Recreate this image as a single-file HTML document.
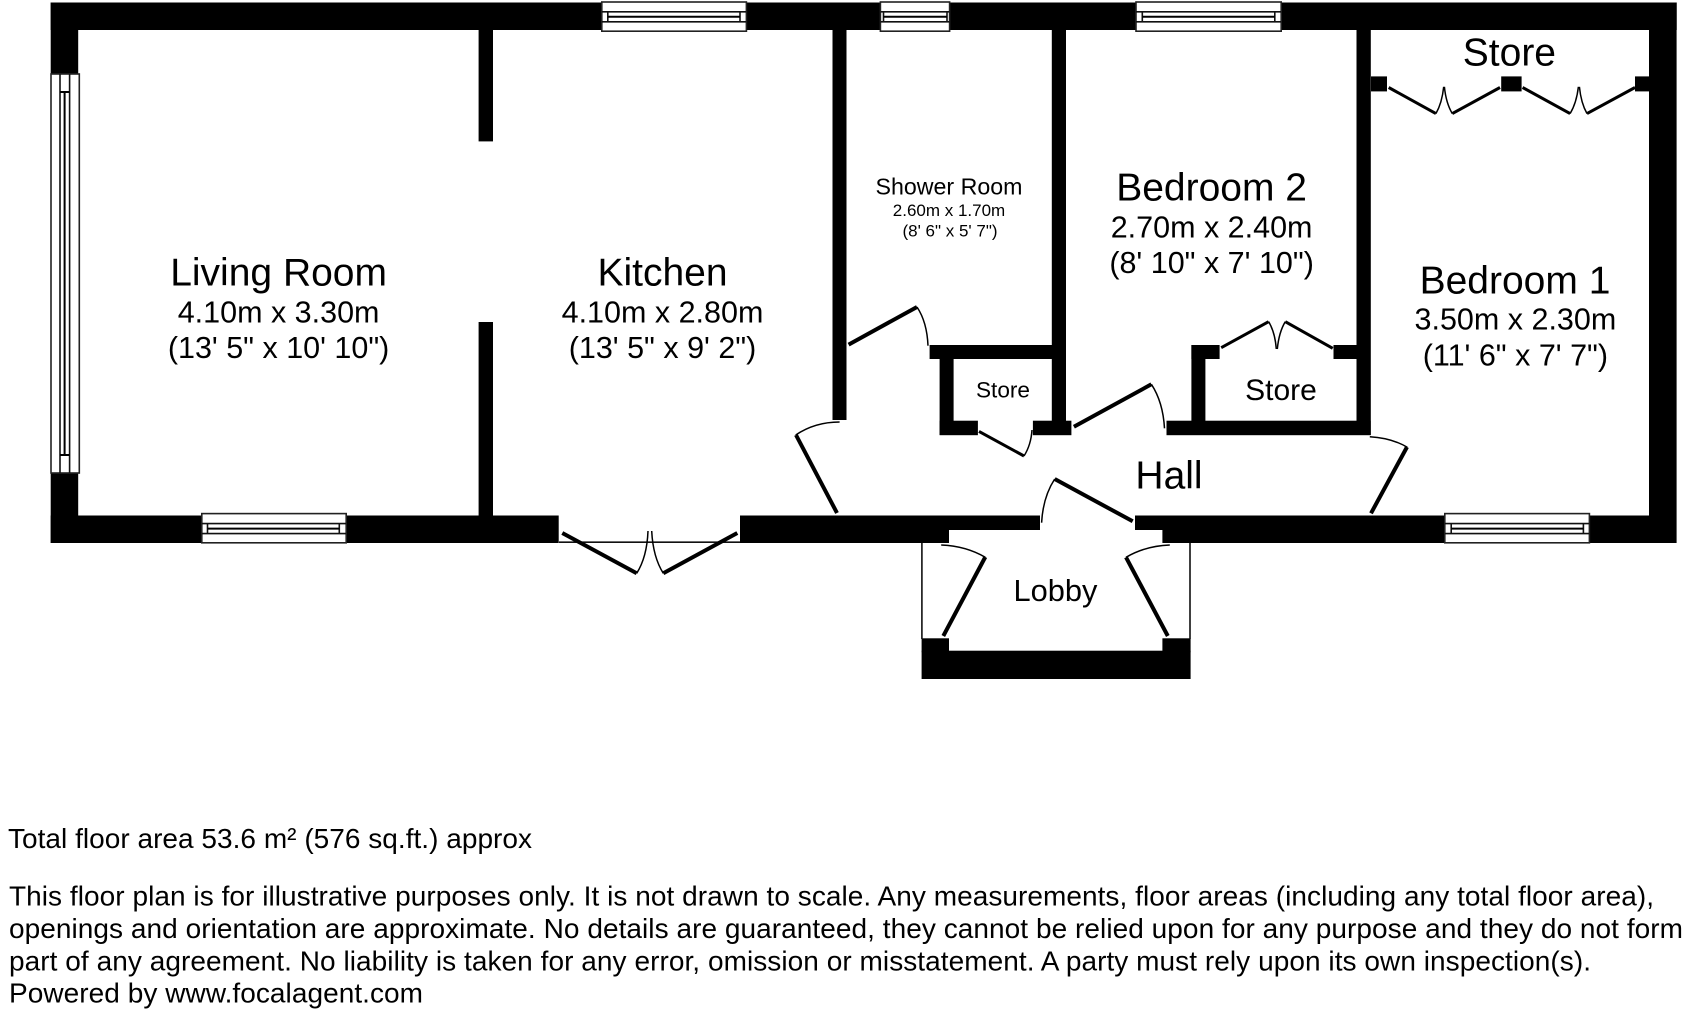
<!DOCTYPE html>
<html>
<head>
<meta charset="utf-8">
<style>
html,body{margin:0;padding:0;background:#fff;width:1688px;height:1016px;overflow:hidden}
svg{display:block}
text{font-family:"Liberation Sans",Arial,sans-serif;fill:#000}
.c{text-anchor:middle}
.t{font-size:39px}
.d{font-size:30.5px}
.f{font-size:28px}
.win{fill:#fff;stroke:#222;stroke-width:1.6}
.wl{stroke:#111;stroke-width:1.6;fill:none}
.wm{stroke:#000;stroke-width:2;fill:none}
.leaf{stroke:#000;stroke-width:4;fill:none}
.leaf2{stroke:#000;stroke-width:3;fill:none}
.arc{stroke:#000;stroke-width:1.5;fill:none}
</style>
</head>
<body>
<svg width="1688" height="1016" viewBox="0 0 1688 1016" xmlns="http://www.w3.org/2000/svg">
<rect width="1688" height="1016" fill="#fff"/>
<!-- walls -->
<g fill="#000">
<rect x="50.7" y="2.5" width="1626" height="27.5"/>
<rect x="50.7" y="2.5" width="27.5" height="72"/>
<rect x="50.7" y="473" width="27.5" height="70"/>
<rect x="1649" y="2.5" width="27.6" height="540.5"/>
<rect x="50.7" y="515.5" width="508" height="27.5"/>
<rect x="740" y="515.5" width="209" height="27.5"/>
<rect x="949" y="515.5" width="91" height="14.5"/>
<rect x="1135" y="515.5" width="28" height="14.5"/>
<rect x="1162.4" y="515.5" width="514" height="27.5"/>
<!-- living/kitchen partition -->
<rect x="478.6" y="30" width="14.4" height="111.4"/>
<rect x="478.6" y="322" width="14.4" height="194"/>
<!-- kitchen/shower -->
<rect x="832.5" y="30" width="14" height="390"/>
<!-- shower/bed2 -->
<rect x="1051.8" y="30" width="14.2" height="392"/>
<rect x="929.6" y="345" width="122.4" height="14"/>
<rect x="939.6" y="345" width="14" height="90"/>
<rect x="939.6" y="420.7" width="38.3" height="14.5"/>
<rect x="1032.9" y="420.7" width="38.5" height="14.5"/>
<!-- bed2 / bed1 -->
<rect x="1356.5" y="30" width="14.3" height="405"/>
<rect x="1166.5" y="420.7" width="204.2" height="14.5"/>
<rect x="1191.4" y="345" width="14" height="76"/>
<rect x="1191.4" y="345" width="28.2" height="14"/>
<rect x="1333.5" y="345" width="23" height="14"/>
<!-- top store stubs -->
<rect x="1371" y="76.4" width="16" height="15"/>
<rect x="1501.2" y="76.4" width="20.4" height="15"/>
<rect x="1635" y="76.4" width="14" height="15"/>
<!-- lobby -->
<rect x="921.6" y="650.7" width="269" height="28.3"/>
<rect x="921.6" y="638.3" width="27.4" height="14"/>
<rect x="1162.4" y="638.3" width="28.2" height="14"/>
</g>
<g class="wl" style="stroke:#111">
<line x1="921.9" y1="543" x2="921.9" y2="639"/>
<line x1="1190" y1="543" x2="1190" y2="639"/>
<line x1="559" y1="542.2" x2="740" y2="542.2"/>
</g>
<!-- windows horizontal -->
<g>
<rect class="win" x="601.8" y="2" width="144.6" height="29.2"/>
<path class="wl" d="M601.8 11.8H746.4M601.8 21.8H746.4M607.8 11.8V21.8M740 11.8V21.8"/><path class="wm" d="M607.8 16.8H740"/>
<rect class="win" x="880.4" y="2" width="69.2" height="29.2"/>
<path class="wl" d="M880.4 11.8H949.6M880.4 21.8H949.6M883.5 11.8V21.8M947 11.8V21.8"/><path class="wm" d="M883.5 16.8H947"/>
<rect class="win" x="1136" y="2" width="145.2" height="29.2"/>
<path class="wl" d="M1136 11.8H1281.2M1136 21.8H1281.2M1142.3 11.8V21.8M1274.8 11.8V21.8"/><path class="wm" d="M1142.3 16.8H1274.8"/>
<rect class="win" x="201.8" y="513.6" width="144.4" height="29.2"/>
<path class="wl" d="M201.8 523.6H346.2M201.8 533.6H346.2M207.5 523.6V533.6M339.3 523.6V533.6"/><path class="wm" d="M207.5 528.6H339.3"/>
<rect class="win" x="1444.8" y="513.6" width="144.6" height="29.2"/>
<path class="wl" d="M1444.8 523.6H1589.4M1444.8 533.6H1589.4M1451.2 523.6V533.6M1583.4 523.6V533.6"/><path class="wm" d="M1451.2 528.6H1583.4"/>
<!-- left window -->
<rect class="win" x="51" y="74" width="28.3" height="399"/>
<path class="wl" d="M60 74V473M69.6 74V473"/><path class="wm" d="M64.6 92V455M60 92H69.6M60 455H69.6"/>
</g>
<!-- doors -->
<g>
<line class="leaf" x1="848.6" y1="344.6" x2="917" y2="307"/>
<path class="arc" d="M917 307Q927 322 928 345.7"/>
<line class="leaf" x1="796" y1="435" x2="837" y2="513"/>
<path class="arc" d="M839.6 422Q815 422 795.7 435"/>
<line class="leaf2" x1="979" y1="431.4" x2="1024" y2="456"/>
<path class="arc" d="M1024 456Q1031 445 1032 430"/>
<line class="leaf" x1="1073.9" y1="426.7" x2="1151.4" y2="384.3"/>
<path class="arc" d="M1151.4 384.3Q1163 402 1164.5 428.3"/>
<line class="leaf2" x1="1221.2" y1="347.7" x2="1268.6" y2="321.7"/>
<path class="arc" d="M1268.6 321.7Q1275 332 1276.3 349"/>
<line class="leaf2" x1="1285.3" y1="321.7" x2="1332.7" y2="348.3"/>
<path class="arc" d="M1285.3 321.7Q1279 332 1277.3 349"/>
<line class="leaf" x1="1407" y1="447" x2="1371" y2="513.3"/>
<path class="arc" d="M1369.8 436.7Q1392 438 1407.3 447.3"/>
<line class="leaf" x1="1054.7" y1="479" x2="1132.7" y2="521.3"/>
<path class="arc" d="M1054.7 479Q1043 497 1041.6 522.7"/>
<line class="leaf" x1="985.3" y1="557" x2="943.3" y2="636"/>
<path class="arc" d="M941.2 545Q966 546 985.3 557.3"/>
<line class="leaf" x1="1126" y1="557.3" x2="1167.8" y2="636"/>
<path class="arc" d="M1169.8 545Q1145 546 1126 557.3"/>
<line class="leaf" x1="562.3" y1="533" x2="636.7" y2="573.3"/>
<path class="arc" d="M636.7 573.3Q647 557 648 531"/>
<line class="leaf" x1="737.3" y1="533" x2="663.3" y2="573.3"/>
<path class="arc" d="M663.3 573.3Q653 557 651.7 531"/>
<line class="leaf2" x1="1388.7" y1="87.5" x2="1435.9" y2="113.6"/>
<path class="arc" d="M1435.9 113.6Q1442 103 1443.7 86.8"/>
<line class="leaf2" x1="1500" y1="87.5" x2="1452.3" y2="113.6"/>
<path class="arc" d="M1452.3 113.6Q1446 103 1444.4 86.8"/>
<line class="leaf2" x1="1522.6" y1="87.5" x2="1570.1" y2="113.6"/>
<path class="arc" d="M1570.1 113.6Q1576.5 103 1578.4 86.8"/>
<line class="leaf2" x1="1635" y1="87.5" x2="1587" y2="113.6"/>
<path class="arc" d="M1587 113.6Q1581 103 1579.4 86.8"/>
</g>
<!-- labels -->
<text class="c t" x="278.6" y="285.7">Living Room</text>
<text class="c d" x="278.6" y="322.5">4.10m x 3.30m</text>
<text class="c d" x="278.6" y="358">(13' 5" x 10' 10")</text>
<text class="c t" x="662.5" y="285.7">Kitchen</text>
<text class="c d" x="662.5" y="322.5">4.10m x 2.80m</text>
<text class="c d" x="662.5" y="358">(13' 5" x 9' 2")</text>
<text class="c" style="font-size:23.2px" x="949" y="194.6">Shower Room</text>
<text class="c" style="font-size:17px" x="949" y="216">2.60m x 1.70m</text>
<text class="c" style="font-size:17px" x="950" y="236.4">(8' 6" x 5' 7")</text>
<text class="c t" x="1211.6" y="200.7">Bedroom 2</text>
<text class="c d" x="1211.6" y="237.5">2.70m x 2.40m</text>
<text class="c d" x="1211.6" y="273">(8' 10" x 7' 10")</text>
<text class="c t" x="1515" y="293.6">Bedroom 1</text>
<text class="c d" x="1515.4" y="329.3">3.50m x 2.30m</text>
<text class="c d" x="1515.4" y="365.4">(11' 6" x 7' 7")</text>
<text class="c t" x="1509.4" y="65.7">Store</text>
<text class="c" style="font-size:22.6px" x="1003" y="397.5">Store</text>
<text class="c" style="font-size:30px" x="1281" y="400">Store</text>
<text class="c t" x="1169" y="488.5">Hall</text>
<text class="c" style="font-size:30.8px" x="1055.5" y="601">Lobby</text>
<!-- footer -->
<text class="f" x="8" y="848" textLength="524">Total floor area 53.6 m² (576 sq.ft.) approx</text>
<text class="f" x="9" y="905.5" textLength="1645">This floor plan is for illustrative purposes only. It is not drawn to scale. Any measurements, floor areas (including any total floor area),</text>
<text class="f" x="9" y="938" textLength="1674">openings and orientation are approximate. No details are guaranteed, they cannot be relied upon for any purpose and they do not form</text>
<text class="f" x="9" y="970.5" textLength="1582">part of any agreement. No liability is taken for any error, omission or misstatement. A party must rely upon its own inspection(s).</text>
<text class="f" x="9" y="1002.6" textLength="414">Powered by www.focalagent.com</text>
</svg>
</body>
</html>
